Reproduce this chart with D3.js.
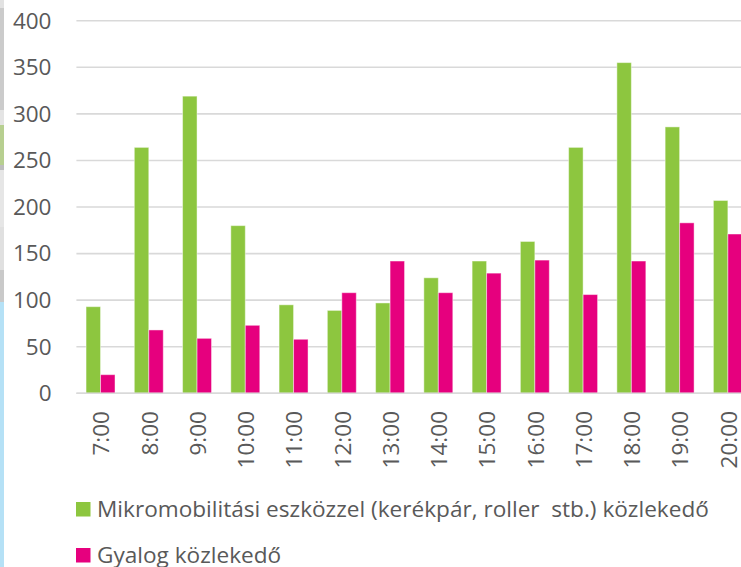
<!DOCTYPE html>
<html>
<head>
<meta charset="utf-8">
<script src="https://cdn.jsdelivr.net/npm/d3@7"></script>
<style>
  body { margin: 0; background: #fff; }
  svg { display: block; font-family: "Open Sans", "Noto Sans", sans-serif; }
  text { white-space: pre; }
</style>
</head>
<body>
<svg id="chart" width="741" height="567"></svg>
<script>
// hours on the x axis
var hours = ["7:00", "8:00", "9:00", "10:00", "11:00", "12:00", "13:00",
             "14:00", "15:00", "16:00", "17:00", "18:00", "19:00", "20:00"];

// series values
var micro   = [93, 264, 319, 180, 95, 89, 97, 124, 142, 163, 264, 355, 286, 207];
var walking = [20, 68, 59, 73, 58, 108, 142, 108, 129, 143, 106, 142, 183, 171];

var seriesNames = ["Mikromobilitási eszközzel (kerékpár, roller  stb.) közlekedő",
                   "Gyalog közlekedő"];
var seriesColors = ["#8dc63f", "#e6007e"];
var yTicks = [0, 50, 100, 150, 200, 250, 300, 350, 400];

var svg = d3.select("#chart");

// bits of the neighbouring window visible along the left edge of the screenshot
var edge = [
  {y0: 0, y1: 8, c: "#e2e2e2"},
  {y0: 8, y1: 110, c: "#cbcbcb"},
  {y0: 110, y1: 125, c: "#e4e4e4"},
  {y0: 125, y1: 165, c: "#b7cf90"},
  {y0: 165, y1: 170, c: "#bdbdbd"},
  {y0: 170, y1: 227, c: "#e6e6e6"},
  {y0: 227, y1: 270, c: "#e0e0e0"},
  {y0: 270, y1: 302, c: "#c9c9c9"},
  {y0: 302, y1: 567, c: "#b5e1f6"}
];
svg.selectAll("rect.edge").data(edge).enter().append("rect")
  .attr("class", "edge")
  .attr("x", 0).attr("width", 4)
  .attr("y", function(d) { return d.y0; })
  .attr("height", function(d) { return d.y1 - d.y0; })
  .attr("fill", function(d) { return d.c; });

var plotLeft = 76.4, plotRight = 752, plotTop = 20.7, plotBottom = 393.3;

var x = d3.scaleBand().domain(hours).range([plotLeft, plotRight])
  .paddingInner(0.4).paddingOuter(0.2);
var xs = d3.scaleBand().domain([0, 1]).range([0, x.bandwidth()]);
var y = d3.scaleLinear().domain([0, 400]).range([plotBottom, plotTop]);

// gridlines
svg.append("g").selectAll("line").data(yTicks).enter().append("line")
  .attr("x1", plotLeft).attr("x2", 741)
  .attr("y1", function(d) { return y(d); })
  .attr("y2", function(d) { return y(d); })
  .attr("stroke", "#d9d9d9")
  .attr("stroke-width", 1.6);

// y labels
svg.append("g").selectAll("text").data(yTicks).enter().append("text")
  .attr("x", 51.5)
  .attr("y", function(d) { return y(d); })
  .attr("dy", "0.35em")
  .attr("text-anchor", "end")
  .attr("font-size", 22.5)
  .attr("fill", "#595959")
  .text(function(d) { return d; });

// bars
var series = [micro, walking];
series.forEach(function(vals, s) {
  svg.append("g").selectAll("rect").data(vals).enter().append("rect")
    .attr("x", function(d, i) { return x(hours[i]) + xs(s); })
    .attr("width", xs.bandwidth())
    .attr("y", function(d) { return y(d); })
    .attr("height", function(d) { return y(0) - y(d); })
    .attr("fill", seriesColors[s])
    .attr("stroke", "rgba(255,255,255,0.45)")
    .attr("stroke-width", 1);
});

// x axis line on top of bars
svg.append("line")
  .attr("x1", plotLeft).attr("x2", 741)
  .attr("y1", y(0)).attr("y2", y(0))
  .attr("stroke", "#d9d9d9").attr("stroke-width", 1.6);

// x labels, rotated
svg.append("g").selectAll("text").data(hours).enter().append("text")
  .attr("transform", function(d) {
    return "translate(" + (x(d) + x.bandwidth() / 2 + 1) + ",411) rotate(-90)";
  })
  .attr("text-anchor", "end")
  .attr("dy", "0.35em")
  .attr("font-size", 22.5)
  .attr("fill", "#595959")
  .text(function(d) { return d; });

// legend
var legendY = [502, 548];
var lg = svg.append("g");
seriesNames.forEach(function(name, s) {
  lg.append("rect")
    .attr("x", 76).attr("y", legendY[s])
    .attr("width", 14.5).attr("height", 14.5)
    .attr("fill", seriesColors[s]);
  lg.append("text")
    .attr("x", 97).attr("y", legendY[s] + 14.5)
    .attr("font-size", 22)
    .attr("fill", "#595959")
    .text(name);
});
// fit the long label to the width it has in the original
var w = lg.select("text").node().getComputedTextLength();
lg.selectAll("text").attr("font-size", 22 * 612 / w);
</script>
</body>
</html>
